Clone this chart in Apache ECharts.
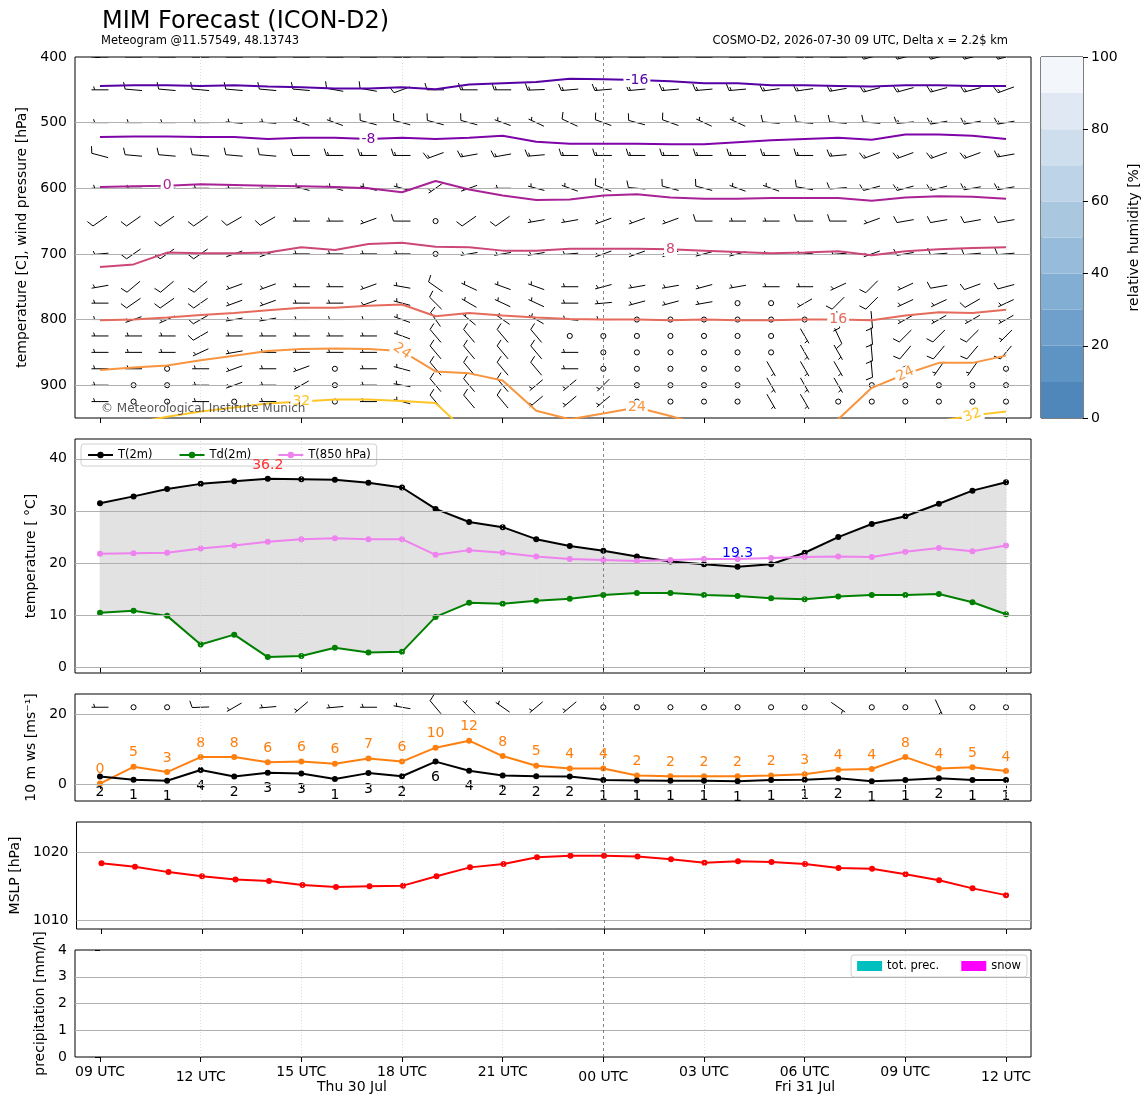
<!DOCTYPE html>
<html>
<head>
<meta charset="utf-8">
<title>MIM Forecast (ICON-D2)</title>
<script src="https://cdn.jsdelivr.net/npm/echarts@6/dist/echarts.min.js"></script>
<style>
html, body { margin: 0; padding: 0; background: #fff; }
#chart { width: 1148px; height: 1105px; }
</style>
</head>
<body>
<div id="chart"></div>
<script>
// forecast hours since 2026-07-30 09 UTC
var hours = [0, 1, 2, 3, 4, 5, 6, 7, 8, 9, 10, 11, 12, 13, 14, 15, 16, 17, 18, 19, 20, 21, 22, 23, 24, 25, 26, 27];
var xTickHours = [0, 3, 6, 9, 12, 15, 18, 21, 24, 27];
var xTickLabels = ['09 UTC', '12 UTC', '15 UTC', '18 UTC', '21 UTC', '00 UTC', '03 UTC', '06 UTC', '09 UTC', '12 UTC'];

// 2m temperature, dew point, 850 hPa temperature [C]
var t2m = [31.5, 32.8, 34.2, 35.2, 35.7, 36.2, 36.1, 36.0, 35.4, 34.5, 30.4, 27.9, 26.9, 24.6, 23.3, 22.4, 21.3, 20.3, 19.8, 19.3, 19.8, 22.0, 25.0, 27.5, 29.0, 31.4, 33.9, 35.5];
var td2m = [10.5, 10.9, 9.9, 4.4, 6.3, 2.0, 2.2, 3.8, 2.9, 3.0, 9.7, 12.4, 12.2, 12.8, 13.2, 13.9, 14.3, 14.3, 13.9, 13.7, 13.3, 13.1, 13.6, 13.9, 13.9, 14.1, 12.5, 10.2];
var t850 = [21.8, 21.9, 22.0, 22.8, 23.4, 24.1, 24.6, 24.8, 24.6, 24.6, 21.6, 22.5, 22.0, 21.3, 20.8, 20.6, 20.4, 20.6, 20.8, 20.8, 21.0, 21.2, 21.3, 21.2, 22.2, 22.9, 22.3, 23.4];

// 10 m wind speed and gusts [m/s], 10 m wind direction [deg]
var ws10 = [2.1, 1.2, 0.9, 4.0, 2.1, 3.2, 3.0, 1.4, 3.1, 2.2, 6.4, 3.8, 2.4, 2.2, 2.1, 1.1, 1.0, 0.9, 0.9, 0.8, 1.1, 1.2, 1.6, 0.8, 1.1, 1.6, 1.1, 1.1];
var gust10 = [0.1, 4.9, 3.4, 7.7, 7.7, 6.2, 6.4, 5.8, 7.3, 6.4, 10.4, 12.4, 8.0, 5.2, 4.4, 4.4, 2.4, 2.2, 2.2, 2.2, 2.4, 2.8, 4.1, 4.3, 7.7, 4.4, 4.8, 3.7];
var wsDir = [270, 270, 270, 268, 240, 265, 230, 265, 270, 280, 320, 315, 305, 230, 230, 270, 270, 270, 270, 270, 270, 270, 125, 270, 270, 155, 270, 270];

// mean sea level pressure [hPa]
var mslp = [1018.4, 1017.9, 1017.1, 1016.5, 1016.0, 1015.8, 1015.2, 1014.9, 1015.0, 1015.1, 1016.5, 1017.8, 1018.3, 1019.3, 1019.5, 1019.5, 1019.4, 1019.0, 1018.5, 1018.7, 1018.6, 1018.3, 1017.7, 1017.6, 1016.8, 1015.9, 1014.7, 1013.7];

// precipitation [mm/h]
var precTot = [0, 0, 0, 0, 0, 0, 0, 0, 0, 0, 0, 0, 0, 0, 0, 0, 0, 0, 0, 0, 0, 0, 0, 0, 0, 0, 0, 0];
var precSnow = [0, 0, 0, 0, 0, 0, 0, 0, 0, 0, 0, 0, 0, 0, 0, 0, 0, 0, 0, 0, 0, 0, 0, 0, 0, 0, 0, 0];

// wind on pressure levels: speed [kt] and direction [deg], one row per level
var levels = [400, 450, 500, 550, 600, 650, 700, 750, 775, 800, 825, 850, 875, 900, 925];
var barbSpd = [
    [15, 15, 15, 15, 15, 15, 15, 15, 15, 15, 15, 15, 15, 15, 15, 15, 15, 15, 15, 15, 15, 15, 15, 15, 15, 15, 15, 15],
    [5, 10, 10, 10, 10, 10, 10, 10, 10, 10, 10, 15, 15, 15, 15, 15, 15, 15, 15, 15, 15, 15, 15, 15, 15, 15, 15, 15],
    [5, 5, 5, 5, 5, 5, 5, 5, 10, 10, 10, 10, 5, 5, 10, 10, 10, 10, 5, 5, 10, 10, 10, 10, 15, 15, 15, 15],
    [10, 10, 10, 10, 10, 10, 10, 15, 15, 15, 15, 15, 15, 15, 15, 15, 15, 15, 15, 15, 15, 15, 15, 15, 15, 15, 15, 15],
    [5, 5, 5, 5, 5, 5, 5, 5, 5, 5, 5, 5, 5, 5, 5, 10, 10, 10, 10, 5, 5, 10, 10, 10, 15, 15, 15, 15],
    [10, 10, 10, 10, 10, 10, 5, 5, 5, 10, 0, 10, 10, 5, 5, 5, 5, 5, 10, 5, 5, 10, 10, 5, 10, 10, 10, 10],
    [5, 10, 10, 10, 5, 5, 5, 5, 5, 5, 0, 5, 5, 5, 5, 5, 5, 5, 5, 5, 5, 5, 5, 5, 10, 10, 10, 10],
    [5, 10, 10, 10, 5, 5, 5, 5, 5, 5, 10, 5, 5, 5, 5, 5, 5, 5, 5, 5, 5, 5, 5, 10, 5, 10, 10, 10],
    [5, 10, 10, 10, 5, 5, 5, 5, 5, 5, 10, 5, 5, 5, 5, 5, 5, 5, 5, 0, 0, 5, 10, 10, 5, 5, 10, 5],
    [5, 5, 5, 10, 5, 5, 5, 5, 5, 5, 10, 5, 5, 5, 5, 5, 0, 0, 0, 0, 0, 0, 10, 10, 5, 5, 5, 5],
    [5, 5, 5, 10, 5, 5, 5, 5, 5, 5, 10, 10, 10, 10, 0, 0, 0, 0, 0, 0, 0, 5, 10, 10, 10, 10, 10, 5],
    [5, 5, 5, 5, 5, 5, 5, 5, 5, 5, 10, 10, 10, 10, 5, 0, 0, 0, 0, 0, 0, 5, 5, 10, 10, 10, 10, 10],
    [5, 5, 0, 5, 5, 5, 5, 0, 5, 5, 10, 10, 10, 10, 5, 0, 0, 0, 0, 0, 5, 5, 5, 10, 0, 5, 5, 0],
    [5, 0, 0, 5, 5, 5, 5, 0, 5, 5, 10, 10, 10, 5, 5, 5, 0, 0, 0, 0, 5, 5, 5, 0, 0, 0, 0, 0],
    [5, 0, 0, 5, 0, 5, 5, 0, 5, 5, 10, 10, 10, 5, 5, 5, 0, 0, 0, 0, 5, 5, 0, 0, 0, 0, 0, 0]
];
var barbDir = [
    [270, 270, 270, 270, 270, 270, 270, 270, 270, 270, 270, 270, 270, 270, 270, 270, 270, 270, 270, 270, 270, 270, 270, 255, 255, 255, 255, 255],
    [270, 275, 275, 275, 275, 275, 275, 280, 280, 250, 270, 270, 270, 268, 265, 265, 265, 265, 265, 265, 262, 262, 260, 255, 255, 255, 255, 250],
    [270, 270, 270, 270, 275, 275, 290, 290, 285, 285, 285, 285, 290, 295, 295, 290, 285, 290, 295, 295, 275, 275, 275, 275, 265, 260, 260, 260],
    [285, 275, 275, 275, 275, 275, 270, 270, 270, 270, 250, 260, 260, 265, 270, 270, 270, 270, 270, 270, 270, 270, 265, 250, 250, 250, 250, 260],
    [270, 270, 270, 270, 270, 270, 285, 285, 285, 285, 235, 250, 270, 285, 290, 290, 275, 285, 285, 290, 290, 280, 265, 255, 255, 255, 260, 260],
    [235, 235, 235, 235, 240, 240, 270, 270, 250, 270, 270, 235, 235, 260, 260, 250, 250, 250, 270, 270, 270, 270, 270, 250, 260, 260, 260, 260],
    [265, 235, 235, 235, 250, 250, 270, 270, 270, 270, 270, 260, 260, 260, 265, 250, 250, 250, 255, 255, 265, 265, 265, 250, 260, 265, 265, 265],
    [260, 230, 230, 230, 250, 250, 270, 270, 250, 280, 305, 295, 290, 290, 270, 255, 260, 260, 255, 260, 270, 270, 245, 225, 245, 260, 250, 255],
    [270, 235, 235, 235, 250, 250, 270, 270, 250, 285, 315, 300, 295, 295, 270, 265, 255, 255, 260, 270, 270, 240, 225, 225, 245, 245, 240, 245],
    [270, 250, 245, 240, 260, 260, 270, 270, 270, 290, 325, 310, 305, 300, 275, 270, 270, 270, 270, 270, 270, 270, 170, 175, 240, 240, 240, 240],
    [270, 270, 270, 240, 270, 270, 270, 270, 270, 290, 320, 320, 320, 320, 270, 270, 270, 270, 270, 270, 270, 150, 155, 175, 225, 225, 225, 225],
    [270, 270, 270, 245, 260, 270, 270, 270, 270, 290, 320, 320, 320, 320, 270, 270, 270, 270, 270, 270, 270, 150, 150, 175, 220, 220, 220, 220],
    [270, 270, 270, 270, 250, 270, 250, 270, 270, 285, 320, 320, 320, 320, 270, 270, 270, 270, 270, 270, 150, 150, 150, 175, 270, 215, 215, 270],
    [270, 270, 270, 270, 250, 270, 240, 270, 270, 280, 320, 320, 320, 230, 230, 225, 270, 270, 270, 270, 150, 150, 150, 270, 270, 270, 270, 270],
    [270, 270, 270, 270, 270, 270, 250, 270, 270, 285, 320, 320, 320, 230, 230, 230, 270, 270, 270, 270, 150, 150, 270, 270, 270, 270, 270, 270]
];

// isotherms: pressure [hPa] of each temperature level along the forecast
var isoLevels = [-16, -8, 0, 8, 16, 24, 32];
var isoM16 = [444, 443, 443, 444, 443, 445, 446, 448, 448, 446, 449, 442, 440, 438, 433, 434, 435, 437, 440, 440, 443, 443, 444, 445, 443, 443, 444, 444];
var isoM8 = [522, 521, 521, 522, 522, 525, 523, 523, 525, 523, 525, 523, 520, 529, 532, 532, 532, 533, 533, 530, 527, 525, 523, 526, 518, 518, 520, 525];
var iso0 = [598, 597, 596, 594, 595, 596, 597, 598, 600, 606, 589, 602, 611, 618, 617, 611, 609, 614, 616, 616, 615, 615, 615, 619, 614, 612, 613, 616];
var iso8 = [720, 716, 698, 699, 699, 698, 690, 694, 685, 683, 689, 690, 695, 695, 692, 692, 692, 693, 695, 697, 699, 698, 696, 702, 696, 693, 691, 690];
var iso16 = [801, 800, 797, 793, 790, 786, 782, 782, 779, 777, 795, 790, 794, 797, 799, 800, 800, 801, 800, 801, 801, 800, 800, 801, 794, 789, 790, 785];
var iso24 = [877, 873, 870, 862, 855, 848, 845, 844, 845, 848, 879, 882, 893, 939, 952, 943, 934, 947, 962, 970, 970, 965, 952, 904, 883, 866, 866, 855];
var iso32 = [975, 958, 948, 940, 934, 928, 925, 922, 922, 924, 927, 975, 990, 990, 990, 990, 990, 990, 990, 990, 990, 990, 990, 990, 990, 955, 946, 940];
var isoLabelIdx = [[16], [8], [2], [17], [22], [9, 16, 24], [6, 26]];
var isoLabelRot = [[0], [0], [0], [0], [0], [-35, 0, 25], [0, 20]];

// relative humidity colour bar
var rhEdges = [0, 10, 20, 30, 40, 50, 60, 70, 80, 90, 100];

var isoColors = ['#5601a4', '#7e03a8', '#a82296', '#cc4778', '#e56b5d', '#f89540', '#fdc527'];
var rhColors = ['#5087bb', '#5e94c3', '#6fa0cb', '#83aed3', '#97bcdb', '#aac7e0', '#bdd3e7', '#cfdeec', '#e0e9f3', '#f3f7fb'];

var FONT = 'DejaVu Sans';
var X_MIN = -0.745, X_MAX = 27.745;

function pairs(ys) {
    return hours.map(function (h, i) { return [h, ys[i]]; });
}

function renderBarb(params, api) {
    var pt = api.coord([api.value(0), api.value(1)]);
    var kt = Math.round(api.value(2) / 5) * 5;
    var L = 17;
    var st = {stroke: '#000', lineWidth: 1, fill: null};
    if (kt < 5) {
        return {type: 'circle', shape: {cx: pt[0], cy: pt[1], r: 0.15 * L},
            style: {stroke: '#000', fill: 'none', lineWidth: 1}};
    }
    var a = api.value(3) * Math.PI / 180;
    var sx = Math.sin(a), sy = -Math.cos(a);
    var fx = Math.cos(a), fy = Math.sin(a);
    var tx = pt[0] + sx * L / 2, ty = pt[1] + sy * L / 2;
    var kids = [{type: 'line', shape: {x1: pt[0] - sx * L / 2, y1: pt[1] - sy * L / 2, x2: tx, y2: ty}, style: st}];
    var sp = 0.125 * L, h = 0.4 * L, w = 0.25 * L, off = 0;
    var full = Math.floor(kt / 10), half = kt % 10 >= 5;
    for (var i = 0; i < full; i++) {
        var bx = tx - sx * off, by = ty - sy * off;
        kids.push({type: 'line', shape: {x1: bx, y1: by, x2: bx + fx * h + sx * w / 2, y2: by + fy * h + sy * w / 2}, style: st});
        off += sp;
    }
    if (half) {
        if (off === 0) off = 1.5 * sp;
        var hx = tx - sx * off, hy = ty - sy * off;
        kids.push({type: 'line', shape: {x1: hx, y1: hy, x2: hx + fx * h / 2 + sx * w / 4, y2: hy + fy * h / 2 + sy * w / 4}, style: st});
    }
    return {type: 'group', children: kids};
}

// grey band between T(2m) and Td(2m), one quad per hour
function renderSpread(params, api) {
    var a = api.coord([api.value(0), api.value(1)]);
    var b = api.coord([api.value(3), api.value(4)]);
    var c = api.coord([api.value(3), api.value(5)]);
    var d = api.coord([api.value(0), api.value(2)]);
    return {type: 'polygon', shape: {points: [a, b, c, d]},
        style: {fill: '#e2e2e2', stroke: '#e2e2e2', lineWidth: 0.6}};
}

// grid lines of one panel, drawn as mark lines of an empty series
function gridLines(idx, hVals, vVals) {
    var data = [];
    hVals.forEach(function (v) {
        data.push({yAxis: v, lineStyle: {color: '#b0b0b0', width: 1, type: 'solid'}});
    });
    vVals.forEach(function (v) {
        if (v === 15) {
            data.push({xAxis: v, lineStyle: {color: '#666', width: 0.8, type: [3, 3]}});
        } else {
            data.push({xAxis: v, lineStyle: {color: '#d4d4d4', width: 0.8, type: [1, 2]}});
        }
    });
    return {
        type: 'line', xAxisIndex: idx, yAxisIndex: idx, data: [], z: 2, silent: true,
        markLine: {silent: true, symbol: ['none', 'none'], label: {show: false}, animation: false, data: data}
    };
}

function xAxis(idx, showLabels) {
    return {
        type: 'value', gridIndex: idx, min: X_MIN, max: X_MAX,
        axisLine: {show: false}, splitLine: {show: false},
        axisTick: {show: true, customValues: xTickHours, length: 5, lineStyle: {color: '#000'}},
        axisLabel: {
            show: showLabels, customValues: xTickHours, margin: 8, fontSize: 14, color: '#000', fontFamily: FONT,
            formatter: function (v) {
                var i = xTickHours.indexOf(v);
                var s = xTickLabels[i];
                return (v === 3 || v === 15 || v === 27) ? '{lo|' + s + '}' : s;
            },
            rich: {lo: {padding: [5, 0, 0, 0], fontSize: 14, color: '#000', fontFamily: FONT}}
        }
    };
}

function yAxis(idx, min, max, ticks, name, gap, inverse) {
    return {
        type: 'value', gridIndex: idx, min: min, max: max, inverse: !!inverse,
        axisLine: {show: false}, splitLine: {show: false},
        axisTick: {show: true, customValues: ticks, length: 5, lineStyle: {color: '#000'}},
        axisLabel: {customValues: ticks, fontSize: 14, color: '#000', margin: 8, fontFamily: FONT,
            formatter: function (v) { return String(v); }},
        name: name, nameLocation: 'middle', nameGap: gap, nameRotate: 90,
        nameTextStyle: {fontSize: 14, color: '#000', fontFamily: FONT}
    };
}

var grids = [
    {left: 75, top: 57, width: 956, height: 361},
    {left: 75, top: 439, width: 956, height: 234},
    {left: 75, top: 694, width: 956, height: 107},
    {left: 75, top: 822, width: 956, height: 107},
    {left: 75, top: 950, width: 956, height: 107},
    {left: 1041, top: 57, width: 42, height: 361}
].map(function (g) {
    g.show = true; g.borderColor = '#000'; g.borderWidth = 1; g.backgroundColor = 'transparent';
    return g;
});

var series = [];

// grid lines
series.push(gridLines(0, [500, 600, 700, 800, 900], [3, 9, 15, 21, 27]));
series.push(gridLines(1, [0, 10, 20, 30, 40], [3, 6, 9, 12, 15, 18, 21, 24, 27]));
series.push(gridLines(2, [0, 20], [3, 9, 15, 21, 27]));
series.push(gridLines(3, [1010, 1020], [3, 6, 9, 12, 15, 18, 21, 24, 27]));
series.push(gridLines(4, [1, 2, 3], [3, 6, 9, 12, 15, 18, 21, 24, 27]));

// upper air wind barbs
var barbData = [];
levels.forEach(function (p, r) {
    hours.forEach(function (h, c) {
        barbData.push([h, p, barbSpd[r][c], barbDir[r][c]]);
    });
});
series.push({
    type: 'custom', xAxisIndex: 0, yAxisIndex: 0, clip: true, z: 4, silent: true,
    encode: {x: 0, y: 1}, data: barbData, renderItem: renderBarb
});

// isotherms
var isoLines = [isoM16, isoM8, iso0, iso8, iso16, iso24, iso32];
isoLines.forEach(function (line, k) {
    var data = pairs(line).map(function (d, i) {
        var j = isoLabelIdx[k].indexOf(i);
        if (j < 0) return d;
        return {value: d, label: {show: true, rotate: isoLabelRot[k][j]}};
    });
    series.push({
        type: 'line', name: String(isoLevels[k]), xAxisIndex: 0, yAxisIndex: 0, clip: true, z: 5,
        data: data, showSymbol: true, symbol: 'circle', symbolSize: 0, silent: true,
        lineStyle: {color: isoColors[k], width: 2},
        itemStyle: {color: isoColors[k]},
        label: {show: false, position: 'inside', formatter: '{a}', color: isoColors[k], fontSize: 14,
            fontFamily: FONT, backgroundColor: '#fff', padding: [0, 2]}
    });
});

// temperature panel
series.push({
    type: 'custom', name: 'spread', xAxisIndex: 1, yAxisIndex: 1, z: 1, silent: true, clip: true,
    encode: {x: [0, 3], y: [1, 2, 4, 5]}, renderItem: renderSpread,
    data: hours.slice(0, -1).map(function (h, i) {
        return [h, t2m[i], td2m[i], hours[i + 1], t2m[i + 1], td2m[i + 1]];
    })
});
series.push({
    type: 'line', name: 'T(2m)', xAxisIndex: 1, yAxisIndex: 1, z: 4, data: pairs(t2m),
    symbol: 'circle', symbolSize: 6, color: '#000', lineStyle: {width: 2, color: '#000'},
    markPoint: {
        symbol: 'circle', symbolSize: 0, silent: true,
        label: {show: true, position: 'top', distance: 6, fontSize: 14, fontFamily: FONT,
            formatter: function (p) { return p.value.toFixed(1); }},
        data: [
            {type: 'max', label: {color: '#ff3030'}},
            {type: 'min', label: {color: '#0000ff'}}
        ]
    }
});
series.push({
    type: 'line', name: 'Td(2m)', xAxisIndex: 1, yAxisIndex: 1, z: 4, data: pairs(td2m),
    symbol: 'circle', symbolSize: 6, color: '#008000', lineStyle: {width: 2, color: '#008000'}
});
series.push({
    type: 'line', name: 'T(850 hPa)', xAxisIndex: 1, yAxisIndex: 1, z: 4, data: pairs(t850),
    symbol: 'circle', symbolSize: 6, color: '#ee82ee', lineStyle: {width: 2, color: '#ee82ee'}
});

// 10 m wind panel
series.push({
    type: 'line', name: 'gust', xAxisIndex: 2, yAxisIndex: 2, z: 4, data: pairs(gust10),
    symbol: 'circle', symbolSize: 6, color: '#ff7f0e', lineStyle: {width: 2, color: '#ff7f0e'},
    label: {show: true, position: 'top', distance: 4, color: '#ff7f0e', fontSize: 14, fontFamily: FONT,
        formatter: function (p) { return Math.round(p.value[1]); }}
});
series.push({
    type: 'line', name: 'ws', xAxisIndex: 2, yAxisIndex: 2, z: 4, data: pairs(ws10),
    symbol: 'circle', symbolSize: 6, color: '#000', lineStyle: {width: 2, color: '#000'},
    label: {show: true, position: 'bottom', distance: 6, color: '#000', fontSize: 14, fontFamily: FONT,
        formatter: function (p) { return Math.round(p.value[1]); }}
});
series.push({
    type: 'custom', xAxisIndex: 2, yAxisIndex: 2, clip: true, z: 4, silent: true,
    encode: {x: 0, y: 1}, renderItem: renderBarb,
    data: hours.map(function (h, i) { return [h, 22, ws10[i] * 1.944, wsDir[i]]; })
});

// mean sea level pressure
series.push({
    type: 'line', name: 'MSLP', xAxisIndex: 3, yAxisIndex: 3, z: 4, data: pairs(mslp),
    symbol: 'circle', symbolSize: 6, color: '#ff0000', lineStyle: {width: 2, color: '#ff0000'}
});

// precipitation (only hours with precipitation get a bar)
function wetHours(vals) {
    return pairs(vals).filter(function (d) { return d[1] > 0; });
}
series.push({
    type: 'bar', name: 'tot. prec.', xAxisIndex: 4, yAxisIndex: 4, data: wetHours(precTot),
    barWidth: 20, itemStyle: {color: '#00bfbf'}
});
series.push({
    type: 'bar', name: 'snow', xAxisIndex: 4, yAxisIndex: 4, data: wetHours(precSnow),
    barWidth: 20, itemStyle: {color: '#ff00ff'}
});

// relative humidity colour bar
rhColors.forEach(function (c, i) {
    series.push({
        type: 'bar', name: 'rh' + i, xAxisIndex: 5, yAxisIndex: 5, stack: 'rh', silent: true,
        data: [rhEdges[i + 1] - rhEdges[i]], barWidth: '100%', itemStyle: {color: c}
    });
});

var xAxes = [xAxis(0, false), xAxis(1, false), xAxis(2, false), xAxis(3, false), xAxis(4, true),
    {type: 'category', gridIndex: 5, data: ['rh'], show: false, boundaryGap: true}];

var yAxes = [
    yAxis(0, 400, 950, [400, 500, 600, 700, 800, 900], 'temperature [C], wind pressure [hPa]', 44, true),
    yAxis(1, -1.05, 43.8, [0, 10, 20, 30, 40], 'temperature [ \u00b0C]', 31),
    yAxis(2, -4.9, 25.8, [0, 20], '10 m ws [ms\u207b\u00b9]', 31),
    yAxis(3, 1008.7, 1024.5, [1010, 1020], 'MSLP [hPa]', 48),
    yAxis(4, 0, 4, [0, 1, 2, 3, 4], 'precipitation [mm/h]', 22),
    {
        type: 'value', gridIndex: 5, min: 0, max: 100, interval: 20, position: 'right',
        axisLine: {show: false}, splitLine: {show: false},
        axisTick: {show: true, length: 5, lineStyle: {color: '#000'}},
        axisLabel: {fontSize: 14, color: '#000', margin: 8, fontFamily: FONT},
        name: 'relative humidity [%]', nameLocation: 'middle', nameGap: 44, nameRotate: 90,
        nameTextStyle: {fontSize: 14, color: '#000', fontFamily: FONT}
    }
];

var option = {
    animation: false,
    backgroundColor: '#fff',
    textStyle: {fontFamily: FONT},
    title: {
        text: 'MIM Forecast (ICON-D2)', left: 97, top: 5,
        textStyle: {fontSize: 24, fontWeight: 'normal', color: '#000', fontFamily: FONT}
    },
    legend: [{
        data: ['T(2m)', 'Td(2m)', 'T(850 hPa)'], left: 81, top: 444, orient: 'horizontal',
        itemWidth: 25, itemHeight: 8, itemGap: 26,
        textStyle: {fontSize: 11.5, color: '#000', fontFamily: FONT},
        borderColor: '#d0d0d0', borderWidth: 1, borderRadius: 3, padding: [5, 6], backgroundColor: '#fff'
    }, {
        data: ['tot. prec.', 'snow'], right: 121, top: 955, icon: 'rect',
        itemWidth: 25, itemHeight: 10, itemGap: 22,
        textStyle: {fontSize: 11.5, color: '#000', fontFamily: FONT},
        borderColor: '#d0d0d0', borderWidth: 1, borderRadius: 3, padding: [5, 6], backgroundColor: '#fff'
    }],
    grid: grids,
    xAxis: xAxes,
    yAxis: yAxes,
    series: series,
    graphic: [
        {type: 'text', x: 101, y: 35, silent: true,
            style: {text: 'Meteogram @11.57549, 48.13743', fontSize: 11.5, fontFamily: FONT, fill: '#000', verticalAlign: 'top'}},
        {type: 'text', x: 1008, y: 35, silent: true,
            style: {text: 'COSMO-D2, 2026-07-30 09 UTC, Delta x = 2.2$ km', fontSize: 11.5, fontFamily: FONT, fill: '#000', align: 'right', verticalAlign: 'top'}},
        {type: 'text', x: 101, y: 403, silent: true, z: 100,
            style: {text: '\u00a9 Meteorological Institute Munich', fontSize: 12, fontFamily: FONT, fill: '#555', verticalAlign: 'top'}},
        {type: 'text', x: 352, y: 1080, silent: true,
            style: {text: 'Thu 30 Jul', fontSize: 14, fontFamily: FONT, fill: '#000', align: 'center', verticalAlign: 'top'}},
        {type: 'text', x: 805, y: 1080, silent: true,
            style: {text: 'Fri 31 Jul', fontSize: 14, fontFamily: FONT, fill: '#000', align: 'center', verticalAlign: 'top'}}
    ]
};

var chart = echarts.init(document.getElementById('chart'));
chart.setOption(option);
</script>
</body>
</html>
